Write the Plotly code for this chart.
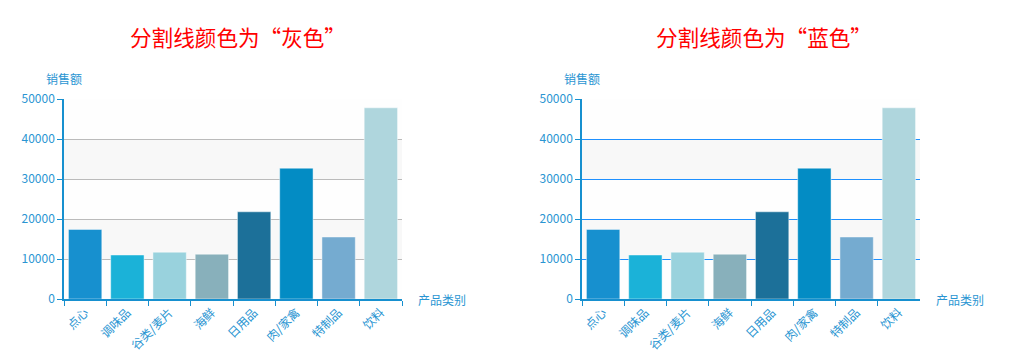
import plotly.graph_objects as go

categories = ["点心", "调味品", "谷类/麦片", "海鲜", "日用品", "肉/家禽", "特制品", "饮料"]
sales = [17400, 11000, 11700, 11200, 21800, 32700, 15500, 47800]
bar_colors = ["#1790cf", "#1bb2d8", "#99d2dd", "#88b0bb", "#1c7099", "#038cc4", "#75abd0", "#afd6dd"]
y_ticks = [0, 10000, 20000, 30000, 40000, 50000]
titles = ["分割线颜色为“灰色”", "分割线颜色为“蓝色”"]
split_colors = ["#bbbbbb", "#1e90ff"]
y_name = "销售额"
x_name = "产品类别"

W, H = 1018, 357
FONT = "Noto Sans CJK SC, Microsoft YaHei, sans-serif"
AXIS_BLUE = "#1790cf"
LABEL_BLUE = "#2a95d2"

fig = go.Figure()

x_domains = [[64 / W, 402 / W], [582 / W, 920 / W]]
y_domain = [(H - 299) / H, (H - 99) / H]
title_x = [238, 764]

for i in range(2):
    xa = "x" if i == 0 else "x2"
    ya = "y" if i == 0 else "y2"
    fig.add_trace(go.Bar(
        x=categories, y=sales, xaxis=xa, yaxis=ya,
        marker=dict(color=bar_colors, line=dict(color="rgba(255,255,255,0.45)", width=1)),
        width=0.79, showlegend=False, hoverinfo="x+y",
    ))
    sfx = "" if i == 0 else str(i + 1)
    fig.layout["xaxis" + sfx] = dict(
        domain=x_domains[i], anchor=ya, type="category", automargin=False,
        showline=True, linecolor=AXIS_BLUE, linewidth=1.5,
        ticks="outside", tickson="boundaries", ticklen=5, tickcolor=AXIS_BLUE, tickwidth=1,
        tickangle=-45, tickfont=dict(family=FONT, size=12, color=LABEL_BLUE),
        showgrid=False, fixedrange=True,
    )
    fig.layout["yaxis" + sfx] = dict(
        domain=y_domain, anchor=xa, range=[0, 50000], automargin=False,
        tickvals=y_ticks, ticktext=[str(v) for v in y_ticks],
        showline=True, linecolor=AXIS_BLUE, linewidth=1.5,
        ticks="outside", ticklen=5, tickcolor=AXIS_BLUE, tickwidth=1,
        tickfont=dict(family=FONT, size=12, color=LABEL_BLUE),
        showgrid=True, gridcolor=split_colors[i], gridwidth=1,
        zeroline=False, fixedrange=True,
    )
    # alternating split areas
    for k in range(len(y_ticks) - 1):
        col = "#fefefe" if k % 2 == 0 else "#f8f8f8"
        fig.add_shape(type="rect", xref=xa + " domain", yref=ya,
                      x0=0, x1=1, y0=y_ticks[k], y1=y_ticks[k + 1],
                      fillcolor=col, line=dict(width=0), layer="below")
    fig.add_annotation(text=y_name, xref=xa + " domain", yref=ya + " domain",
                       x=0, y=1.1, xanchor="center", yanchor="middle", showarrow=False,
                       font=dict(family=FONT, size=12, color=LABEL_BLUE))
    fig.add_annotation(text=x_name, xref=xa + " domain", yref=ya + " domain",
                       x=1, xshift=14, y=0, xanchor="left", yanchor="middle", showarrow=False,
                       font=dict(family=FONT, size=12, color=LABEL_BLUE))
    fig.add_annotation(text=titles[i], xref="paper", yref="paper",
                       x=title_x[i] / W, y=(H - 37) / H, xanchor="center", yanchor="middle",
                       showarrow=False, font=dict(family=FONT, size=21.6, color="#ff0000"))

fig.update_layout(
    width=W, height=H, margin=dict(l=0, r=0, t=0, b=0),
    paper_bgcolor="white", plot_bgcolor="white", bargap=0.21,
)

fig.write_html("out.html", config={"displayModeBar": False},
               post_script="document.body.style.margin='0';document.body.style.overflow='hidden';")
